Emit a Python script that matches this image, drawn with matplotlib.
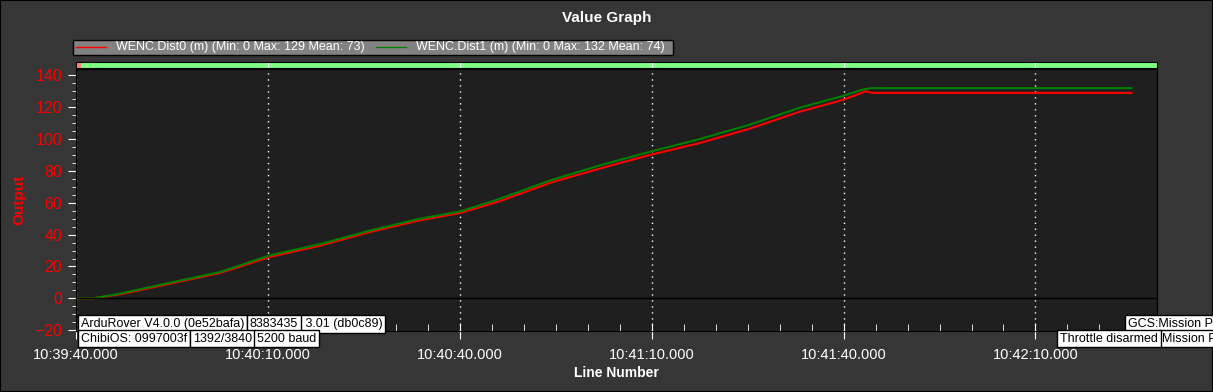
import matplotlib
matplotlib.use('Agg')
import matplotlib.pyplot as plt
from matplotlib.ticker import MultipleLocator, FixedLocator
from matplotlib.patches import Rectangle
from matplotlib.lines import Line2D

plt.rcParams['font.family'] = ['Liberation Sans', 'DejaVu Sans']

# seconds after 10:39:40
t_dist0 = [0, 2.7, 6.9, 14.7, 22.5, 30.3, 38.1, 45.9, 53.75, 60, 66.25, 74.1, 81.9, 89.7,
           97.5, 105.3, 113, 119.8, 123.5, 124.5, 165]
dist0 = [0, 0, 2.5, 9.2, 15.9, 26, 33, 41.6, 49, 53.5, 61, 72.5, 81.5, 90,
         97.5, 106.5, 117, 124.5, 130, 129, 129]
t_dist1 = [0, 2.7, 6.9, 14.7, 22.5, 30.3, 38.1, 45.9, 53.75, 60, 66.25, 74.1, 81.9, 89.7,
           97.5, 105.3, 113, 119.8, 122.9, 124.3, 165]
dist1 = [0, 0, 3, 9.8, 16.5, 27, 34, 42.5, 50, 54.5, 62.5, 74, 83.5, 92,
         100, 109, 119.5, 127, 131, 132, 132]

tick_pos = [0, 30, 60, 90, 120, 150]
tick_labels = ['10:39:40.000', '10:40:10.000', '10:40:40.000', '10:41:10.000',
               '10:41:40.000', '10:42:10.000']
legend0 = 'WENC.Dist0 (m) (Min: 0 Max: 129 Mean: 73)'
legend1 = 'WENC.Dist1 (m) (Min: 0 Max: 132 Mean: 74)'

W, H = 1213, 392
fig = plt.figure(figsize=(W / 100, H / 100), dpi=100, facecolor='#363636')

def fx(px):
    return px / W

def fy(py):
    return 1 - py / H

ax = fig.add_axes([fx(76), fy(331), fx(1157) - fx(76), fy(69) - fy(331)])
ax.set_facecolor('#1f1f1f')
ax.plot(t_dist0, dist0, color='#ff0000', lw=1.5)
ax.plot(t_dist1, dist1, color='#008000', lw=1.5)
ax.axhline(0, color='black', lw=1)
ax.set_xlim(0, 169)
ax.set_ylim(-20.5, 144)

ax.xaxis.set_major_locator(FixedLocator(tick_pos))
ax.set_xticklabels(tick_labels)
ax.xaxis.set_minor_locator(MultipleLocator(5))
ax.yaxis.set_major_locator(MultipleLocator(20))
ax.yaxis.set_minor_locator(MultipleLocator(5))
ax.tick_params(axis='x', which='major', direction='inout', length=12, color='white',
               labelcolor='white', labelsize=10.5, pad=6)
ax.tick_params(axis='x', which='minor', direction='in', length=5, color='white')
ax.tick_params(axis='y', which='major', direction='out', length=6, color='white',
               labelcolor='red', labelsize=11.5, pad=4)
ax.tick_params(axis='y', which='minor', direction='out', length=3, color='white')
ax.grid(axis='x', which='major', color='white', linestyle=(0, (1, 3.3)), lw=1)
for s in ax.spines.values():
    s.set_color('black')

ax.set_ylabel('Output', color='red', fontsize=11, fontweight='bold', labelpad=6)
ax.set_xlabel('Line Number', color='white', fontsize=10, fontweight='bold', labelpad=3)

# green status bar above plot
bar = fig.add_axes([fx(76), fy(68), fx(1157) - fx(76), fy(62) - fy(68)], sharex=ax)
bar.set_facecolor('#80ff80')
bar.set_yticks([])
bar.tick_params(axis='x', which='both', length=0, labelbottom=False)
bar.axvspan(0, 0.6, color='#ff8080')
for p in tick_pos:
    bar.axvline(p, color='white', lw=1)
for s in bar.spines.values():
    s.set_color('black')

fig.text(0.5, fy(18), 'Value Graph', color='white', fontsize=11, fontweight='bold',
         ha='center', va='center')

# legend box
fig.patches.append(Rectangle((fx(73), fy(55)), fx(673) - fx(73), fy(40) - fy(55),
                             transform=fig.transFigure, facecolor='#828282',
                             edgecolor='black', lw=1))
fig.lines.append(Line2D([fx(76), fx(106)], [fy(47), fy(47)], transform=fig.transFigure,
                        color='#ff0000', lw=1))
fig.text(fx(116), fy(47), legend0, color='white', fontsize=9, va='center')
fig.lines.append(Line2D([fx(376), fx(406)], [fy(47), fy(47)], transform=fig.transFigure,
                        color='#008000', lw=1))
fig.text(fx(416), fy(47), legend1, color='white', fontsize=9, va='center')

# message boxes
boxes = [
    (302, 324, ' 3.01 (db0c89)'),
    (81, 324, 'ArduRover V4.0.0 (0e52bafa)'),
    (250, 324, '8383435'),
    (81, 338.5, 'ChibiOS: 0997003f'),
    (193, 338.5, '1392/3840'),
    (257, 338.5, '5200 baud'),
    (1128, 324, 'GCS:Mission Pl'),
    (1162, 338.5, 'Mission Pl'),
    (1060, 338.5, 'Throttle disarmed'),
]
for x, y, s in boxes:
    fig.text(fx(x), fy(y), s, color='black', fontsize=9, va='center', ha='left',
             bbox=dict(boxstyle='square,pad=0.22', fc='white', ec='black', lw=1))

fig.patches.append(Rectangle((0, 0), 1, 1, transform=fig.transFigure, fill=False,
                             edgecolor='black', lw=1.5))

fig.savefig('out.png', dpi=100, facecolor=fig.get_facecolor())
